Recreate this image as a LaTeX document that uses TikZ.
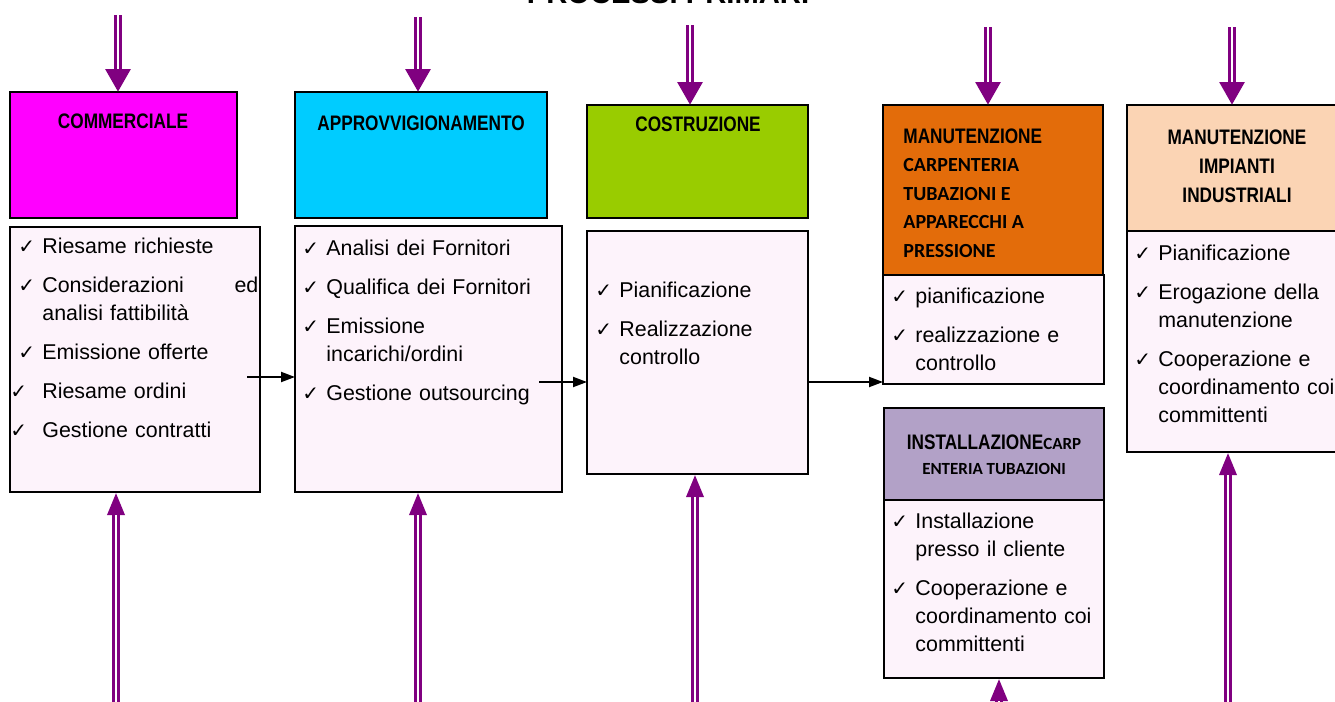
\documentclass[tikz,border=0pt]{standalone}
\usepackage{fontspec}
\setmainfont{Liberation Sans}
\newfontfamily\hdfont{Liberation Sans Bold}[FakeStretch=0.82]
\newfontfamily\calfont{Carlito}
\newfontfamily\tickfont{DejaVu Sans}
\usetikzlibrary{arrows.meta}
\definecolor{commcol}{HTML}{FF00FF}
\definecolor{approcol}{HTML}{00CCFF}
\definecolor{costcol}{HTML}{99CC00}
\definecolor{carpcol}{HTML}{E36C0A}
\definecolor{impcol}{HTML}{FBD4B4}
\definecolor{instcol}{HTML}{B2A1C7}
\definecolor{bodycol}{HTML}{FDF3FB}
\definecolor{feedcol}{HTML}{800080}
\newcommand{\ck}{\makebox[11pt][l]{\hspace*{-1pt}\tickfont\fontsize{10}{10}\selectfont ✓}}
\newcommand{\ckw}{\hspace*{-4pt}\makebox[15pt][l]{\hspace*{-1pt}\tickfont\fontsize{10}{10}\selectfont ✓}}
\newcommand{\ind}{\hspace*{11pt}}
\newcommand{\calb}{\calfont\bfseries\fontsize{10}{14.25}\selectfont}
\newcommand{\cals}{\calfont\bfseries\fontsize{8.5}{12.5}\selectfont}

\begin{document}
\begin{tikzpicture}[x=0.5pt,y=-0.5pt,
  hd/.style={draw, line width=1pt, anchor=north west, inner sep=0pt, outer sep=0pt},
  bd/.style={hd, fill=bodycol},
  hdtxt/.style={font=\hdfont\fontsize{10.5}{14.25}\selectfont, align=center, inner sep=0pt},
  item/.style={anchor=north west, inner sep=0pt, align=left, font=\fontsize{10.7}{14}\selectfont},
  flow/.style={-{Triangle[length=7pt,width=5pt]}, line width=1pt},
  feed/.style 2 args={draw=feedcol, line width=4pt, -{Triangle[length=#1,width=#2]},
    postaction={draw=white, line width=1pt, -, shorten >=#1}},
  feeddown/.style={feed={11.5pt}{12pt}},
  feedup/.style={feed={11.5pt}{8pt}}]
\useasboundingbox (0,0) rectangle (1335,702);
\clip (0,0) rectangle (1335,702);

\node[font=\bfseries\fontsize{14.6}{17}\selectfont, anchor=base] (title) at (668,3) {PROCESSI PRIMARI};

\node[hd, fill=commcol, minimum width=113.5pt, minimum height=63pt] (h1) at (10,92) {};
\node[hd, fill=approcol, minimum width=126pt, minimum height=63pt] (h2) at (295,92) {};
\node[hd, fill=costcol, minimum width=110.5pt, minimum height=56.5pt] (h3) at (587,105) {};
\node[hd, fill=carpcol, minimum width=110pt, minimum height=85pt] (h4) at (883,105) {};
\node[hd, fill=impcol, minimum width=109pt, minimum height=63pt] (h5) at (1127,105) {};
\node[hd, fill=instcol, minimum width=110pt, minimum height=46pt] (h6) at (884,408) {};

\node[bd, minimum width=125pt, minimum height=132.5pt] (b1) at (10,227) {};
\node[bd, minimum width=133.5pt, minimum height=133pt] (b2) at (295,226) {};
\node[bd, minimum width=110.5pt, minimum height=121.5pt] (b3) at (587,231) {};
\node[bd, minimum width=110.5pt, minimum height=54.5pt] (b4) at (883,275) {};
\node[bd, minimum width=109pt, minimum height=110.5pt] (b5) at (1127,231) {};
\node[bd, minimum width=110pt, minimum height=89pt] (b6) at (884,500) {};

\node[hdtxt] (t1) at (123,121) {COMMERCIALE};
\node[hdtxt] (t2) at (421,123) {APPROVVIGIONAMENTO};
\node[hdtxt] (t3) at (698,124) {COSTRUZIONE};
\node[hdtxt, anchor=west, align=left] (t4) at (903,193) {MANUTENZIONE\\\calb CARPENTERIA\\\calb TUBAZIONI E\\\calb APPARECCHI A\\\calb PRESSIONE};
\node[hdtxt, font=\hdfont\fontsize{10.5}{14.5}\selectfont] (t5) at (1237,166) {MANUTENZIONE\\IMPIANTI\\INDUSTRIALI};
\node[hdtxt, font=\hdfont\fontsize{10.5}{12.5}\selectfont] (t6) at (994,455) {INSTALLAZIONE{\cals CARP}\\\cals ENTERIA TUBAZIONI};

\node[item, text width=119pt] (l1) at (20,233) {\strut\ck Riesame richieste\\[5.5pt]
  \ck Considerazioni\hfill ed\\\ind analisi fattibilità\\[5.5pt]
  \ck Emissione offerte\\[5.5pt]
  \ckw Riesame ordini\\[5.5pt]
  \ckw Gestione contratti};
\node[item, text width=128pt] (l2) at (304,235) {\strut\ck Analisi dei Fornitori\\[5.5pt]
  \ck Qualifica dei Fornitori\\[5.5pt]
  \ck Emissione\\\ind incarichi/ordini\\[5.5pt]
  \ck Gestione outsourcing};
\node[item, text width=110pt] (l3) at (597,277) {\strut\ck Pianificazione\\[5.5pt]
  \ck Realizzazione\\\ind controllo};
\node[item, text width=110pt] (l4) at (893,283) {\strut\ck pianificazione\\[5.5pt]
  \ck realizzazione e\\\ind controllo};
\node[item, text width=120pt] (l5) at (1136,240) {\strut\ck Pianificazione\\[5.5pt]
  \ck Erogazione della\\\ind manutenzione\\[5.5pt]
  \ck Cooperazione e\\\ind coordinamento coi\\\ind committenti};
\node[item, text width=110pt] (l6) at (893,508) {\strut\ck Installazione\\\ind presso il cliente\\[5.5pt]
  \ck Cooperazione e\\\ind coordinamento coi\\\ind committenti};

\coordinate (o1) at (247,377);
\coordinate (o2) at (539,382);
\coordinate (o3) at (808,382);
\draw[flow] (o1) -- (o1 -| b2.west);
\draw[flow] (o2) -- (o2 -| b3.west);
\draw[flow] (o3) -- (o3 -| b4.west);

\coordinate (in1) at (118,15);
\coordinate (in2) at (418,17);
\coordinate (in3) at (690,25);
\coordinate (in4) at (988,27);
\coordinate (in5) at (1232,27);
\draw[feeddown] (in1) -- (in1 |- h1.north);
\draw[feeddown] (in2) -- (in2 |- h2.north);
\draw[feeddown] (in3) -- (in3 |- h3.north);
\draw[feeddown] (in4) -- (in4 |- h4.north);
\draw[feeddown] (in5) -- (in5 |- h5.north);

\coordinate (out1) at (116,710);
\coordinate (out2) at (418,710);
\coordinate (out3) at (695,710);
\coordinate (out4) at (999,710);
\coordinate (out5) at (1228,710);
\draw[feedup] (out1) -- (out1 |- b1.south);
\draw[feedup] (out2) -- (out2 |- b2.south);
\draw[feedup] (out3) -- (out3 |- b3.south);
\draw[feedup] (out4) -- (out4 |- b6.south);
\draw[feedup] (out5) -- (out5 |- b5.south);
\end{tikzpicture}
\end{document}
